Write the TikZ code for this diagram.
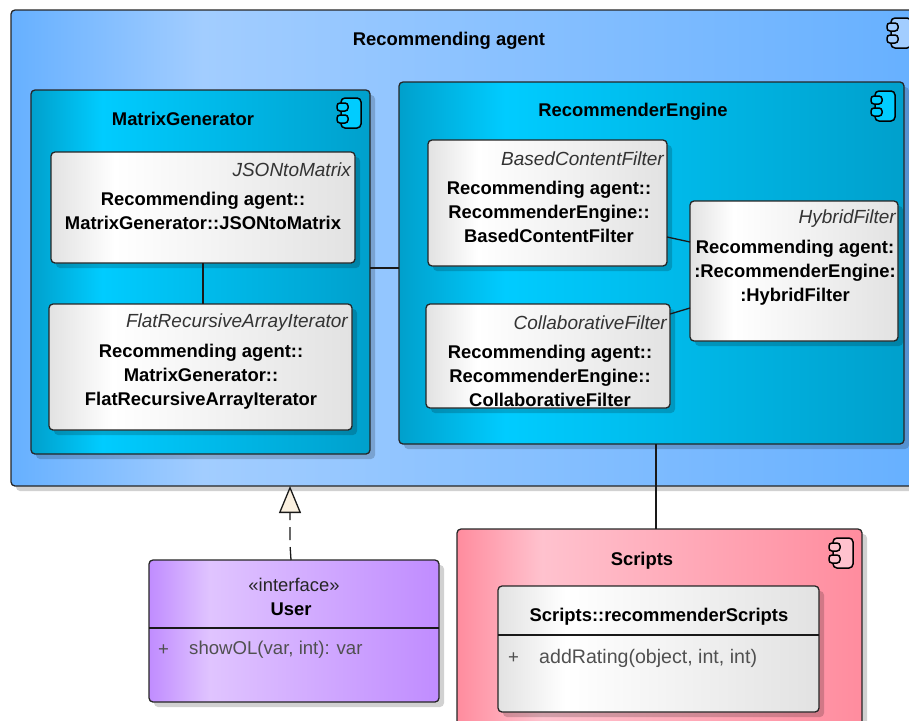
\documentclass[tikz,border=0pt]{standalone}
\usepackage{fontspec}
\setmainfont{Liberation Sans}
\usetikzlibrary{arrows.meta,shadows}

\definecolor{agentdark}{HTML}{66B0FF}
\definecolor{agentlight}{HTML}{A2CDFF}
\definecolor{moduledark}{HTML}{00A0CC}
\definecolor{modulelight}{HTML}{00CCFF}
\definecolor{scriptdark}{HTML}{FF8C9E}
\definecolor{scriptlight}{HTML}{FFC2CE}
\definecolor{userdark}{HTML}{C08CFF}
\definecolor{userlight}{HTML}{E0C4FF}
\definecolor{classdark}{HTML}{E2E2E2}
\definecolor{tipfill}{HTML}{FAF0E0}
\definecolor{optext}{HTML}{505050}

\pgfdeclarehorizontalshading{agentshade}{100bp}{color(0bp)=(agentdark); color(25bp)=(agentdark); color(35.5bp)=(agentlight); color(75bp)=(agentdark); color(100bp)=(agentdark)}
\pgfdeclarehorizontalshading{moduleshade}{100bp}{color(0bp)=(moduledark); color(25bp)=(moduledark); color(35.5bp)=(modulelight); color(75bp)=(moduledark); color(100bp)=(moduledark)}
\pgfdeclarehorizontalshading{scriptshade}{100bp}{color(0bp)=(scriptdark); color(25bp)=(scriptdark); color(35.5bp)=(scriptlight); color(75bp)=(scriptdark); color(100bp)=(scriptdark)}
\pgfdeclarehorizontalshading{userdshade}{100bp}{color(0bp)=(userdark); color(25bp)=(userdark); color(35.5bp)=(userlight); color(75bp)=(userdark); color(100bp)=(userdark)}
\pgfdeclarehorizontalshading{classshade}{100bp}{color(0bp)=(classdark); color(25bp)=(classdark); color(35.5bp)=(white); color(75bp)=(classdark); color(100bp)=(classdark)}

\tikzset{
  umlbox/.style={draw=black!85, line width=1.3pt, rounded corners=4pt, inner sep=0pt, outer sep=0pt,
    drop shadow={shadow xshift=5pt, shadow yshift=-5pt, fill=black, opacity=0.18}},
  agentbox/.style={umlbox, shade, shading=agentshade},
  modulebox/.style={umlbox, shade, shading=moduleshade},
  scriptbox/.style={umlbox, shade, shading=scriptshade},
  userbox/.style={umlbox, shade, shading=userdshade},
  classbox/.style={umlbox, shade, shading=classshade},
  title/.style={font=\fontsize{18.4}{24}\selectfont\bfseries, align=center, inner sep=0pt},
  itname/.style={font=\fontsize{19}{24}\selectfont\itshape, text=black!80, anchor=east, inner sep=0pt},
  optxt/.style={font=\fontsize{18.6}{24}\selectfont, text=optext, anchor=west, inner sep=0pt},
  conn/.style={line width=1.3pt, draw=black!90},
  pics/compicon/.style={code={
    \draw[line width=1.5pt, rounded corners=4pt, fill=#1] (4,0) rectangle (24,30);
    \draw[line width=1.5pt, rounded corners=3pt, fill=#1] (0,5) rectangle (11,13);
    \draw[line width=1.5pt, rounded corners=3pt, fill=#1] (0,17) rectangle (11,25);
  }}
}

\begin{document}
\begin{tikzpicture}[x=1pt, y=-1pt]
    \clip (0,0) rectangle (909,720);
    % Packages
    \node[agentbox, minimum width=914pt, minimum height=476pt] (RecommendingAgent) at (468,248) {};
    \node[modulebox, minimum width=339pt, minimum height=364pt] (MatrixGenerator) at (200.5,272) {};
    \node[modulebox, minimum width=505pt, minimum height=362pt] (RecommenderEngine) at (651.5,263) {};
    \node[scriptbox, minimum width=405pt, minimum height=240pt] (Scripts) at (659.5,649) {};
    \node[userbox, minimum width=290pt, minimum height=142pt] (User) at (294,631) {};
    % Classes
    \node[classbox, minimum width=304pt, minimum height=111pt] (JSONtoMatrix) at (203,207.5) {};
    \node[classbox, minimum width=303pt, minimum height=126pt] (FlatIterator) at (200.5,367) {};
    \node[classbox, minimum width=239pt, minimum height=126pt] (BasedFilter) at (547.5,203) {};
    \node[classbox, minimum width=244pt, minimum height=104pt] (CollabFilter) at (548,356) {};
    \node[classbox, minimum width=208pt, minimum height=140pt] (HybridFilter) at (794,271) {};
    \node[classbox, minimum width=321pt, minimum height=126pt] (RecScripts) at (658.5,649) {};
    % Icons
    \pic at (887,18) {compicon=agentlight};
    \pic at (337,98) {compicon=modulelight};
    \pic at (871,91) {compicon=modulelight};
    \pic at (829,538) {compicon=scriptlight};
    % Titles
    \node[title] (agentTitle) at (449,40.5) {Recommending agent};
    \node[title] (matrixTitle) at (183,119) {MatrixGenerator};
    \node[title] (engineTitle) at (633,112) {RecommenderEngine};
    \node[title] (scriptsTitle) at (642,561) {Scripts};
    % Class labels
    \node[itname] (jsonName) at (351,170) {JSONtoMatrix};
    \node[title] (jsonLabel) at (203,211) {Recommending agent::\\MatrixGenerator::JSONtoMatrix};
    \node[itname] (flatName) at (348,323) {FlatRecursiveArrayIterator};
    \node[title] (flatLabel) at (201,377) {Recommending agent::\\MatrixGenerator::\\FlatRecursiveArrayIterator};
    \node[itname] (basedName) at (664,159) {BasedContentFilter};
    \node[title] (basedLabel) at (549,211.5) {Recommending agent::\\RecommenderEngine::\\BasedContentFilter};
    \node[itname] (collabName) at (667,323) {CollaborativeFilter};
    \node[title] (collabLabel) at (550,375.5) {Recommending agent::\\RecommenderEngine::\\CollaborativeFilter};
    \node[itname] (hybridName) at (896,219) {HybridFilter};
    \node[title] (hybridLabel) at (795,273) {Recommending agent:\\:RecommenderEngine:\\:HybridFilter};
    % User and Scripts members
    \node[font=\fontsize{18.4}{24}\selectfont, text=black!85, inner sep=0pt] (userStereo) at (294,585) {«interface»};
    \node[title] (userTitle) at (291,609) {User};
    \draw[conn] (User.west |- 0,628) -- (User.east |- 0,628);
    \node[optxt] (userPlus) at (158,650) {+};
    \node[optxt] (userOp) at (189,650) {showOL(var, int): var};
    \node[title] (recTitle) at (659,617) {Scripts::recommenderScripts};
    \draw[conn] (RecScripts.west |- 0,635) -- (RecScripts.east |- 0,635);
    \node[optxt] (recPlus) at (508,658) {+};
    \node[optxt, font=\fontsize{19.6}{24}\selectfont] (recOp) at (539,658) {addRating(object, int, int)};
    % Connectors
    \draw[conn] (JSONtoMatrix.south) -- (JSONtoMatrix.south |- FlatIterator.north);
    \draw[conn] ([yshift=4pt]MatrixGenerator.east) -- ([yshift=-5pt]RecommenderEngine.west);
    \draw[conn] (BasedFilter.east |- 0,237) -- (HybridFilter.west |- 0,242);
    \draw[conn] (CollabFilter.east |- 0,314) -- (HybridFilter.west |- 0,308);
    \draw[conn] (RecommenderEngine.south -| 656,0) -- (Scripts.north -| 656,0);
    \draw[conn, dash pattern=on 13pt off 7pt, -{Triangle[length=27pt, width=22pt, fill=tipfill, line width=1.3pt]}]
      ([xshift=-3pt]User.north) -- (290,545) -- ([xshift=-178pt]RecommendingAgent.south);
\end{tikzpicture}
\end{document}
